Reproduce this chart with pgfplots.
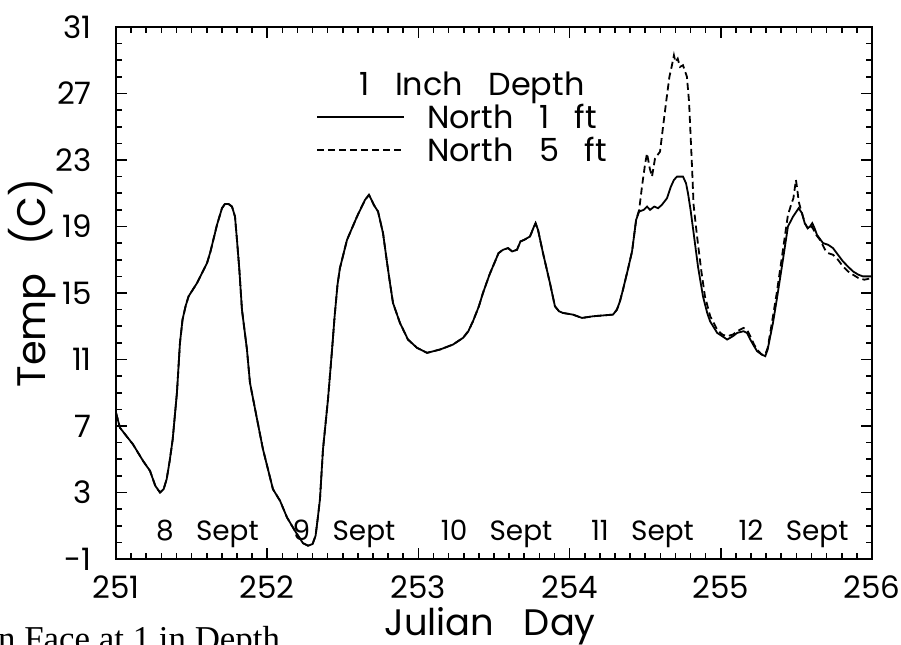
\documentclass[border=0pt]{standalone}
\usepackage{fontspec}
\setmainfont{Poppins}
\newfontfamily\capfont{Liberation Serif}
\usepackage{pgfplots}
\usepackage{pgfplotstable}
\pgfplotsset{compat=1.18}

\pgfplotstableread{
day temp
251.000 7.8
251.026 6.9
251.060 6.5
251.112 5.9
251.179 4.9
251.225 4.3
251.260 3.4
251.291 3.0
251.315 3.2
251.335 3.8
251.355 4.9
251.375 6.2
251.403 9.0
251.423 12.0
251.440 13.4
251.460 14.2
251.480 14.8
251.536 15.6
251.602 16.8
251.625 17.5
251.668 19.1
251.701 20.1
251.720 20.35
251.745 20.35
251.767 20.2
251.787 19.6
251.800 18.2
251.815 16.5
251.833 14.0
251.866 11.6
251.886 9.6
251.933 7.4
251.972 5.6
252.038 3.2
252.085 2.5
252.131 1.5
252.170 0.9
252.197 0.5
252.237 -0.05
252.270 -0.2
252.300 -0.1
252.320 0.4
252.335 1.5
252.349 2.6
252.369 5.6
252.402 8.6
252.429 11.6
252.445 13.5
252.465 15.5
252.481 16.5
252.528 18.2
252.594 19.6
252.647 20.6
252.673 20.9
252.690 20.6
252.705 20.3
252.733 19.9
252.766 18.6
252.790 17.0
252.812 15.6
252.832 14.4
252.878 13.2
252.931 12.2
252.991 11.7
253.057 11.4
253.143 11.6
253.229 11.9
253.295 12.3
253.330 12.7
253.361 13.3
253.400 14.2
253.427 15.0
253.470 16.1
253.507 16.9
253.530 17.4
253.560 17.6
253.593 17.7
253.620 17.5
253.652 17.6
253.675 18.1
253.700 18.2
253.738 18.4
253.760 18.9
253.775 19.2
253.791 18.8
253.824 17.4
253.870 15.6
253.903 14.2
253.930 13.9
253.956 13.8
254.022 13.7
254.082 13.5
254.155 13.6
254.220 13.65
254.287 13.7
254.313 14.0
254.333 14.5
254.353 15.2
254.385 16.4
254.413 17.5
254.440 19.4
254.460 19.9
254.490 20.0
254.512 20.2
254.532 20.0
254.560 20.2
254.585 20.1
254.610 20.3
254.644 20.7
254.670 21.4
254.690 21.8
254.710 22.0
254.750 22.0
254.770 21.6
254.783 21.0
254.800 20.0
254.816 18.9
254.849 16.6
254.882 14.8
254.910 13.8
254.929 13.3
254.976 12.6
255.010 12.4
255.042 12.2
255.080 12.4
255.108 12.6
255.150 12.7
255.173 12.6
255.195 12.2
255.220 11.8
255.240 11.5
255.270 11.3
255.294 11.2
255.310 11.6
255.325 12.3
255.345 13.2
255.370 14.6
255.411 17.0
255.444 19.0
255.478 19.6
255.500 19.9
255.515 20.1
255.537 19.8
255.555 19.2
255.575 18.9
255.590 19.0
255.605 19.2
255.620 18.9
255.636 18.5
255.676 18.0
255.710 17.9
255.742 17.7
255.775 17.3
255.808 16.9
255.840 16.6
255.874 16.3
255.910 16.1
255.940 16.0
256.000 16.0
}\northone

\pgfplotstableread{
day temp
251.000 7.8
251.026 6.9
251.060 6.5
251.112 5.9
251.179 4.9
251.225 4.3
251.260 3.4
251.291 3.0
251.315 3.2
251.335 3.8
251.355 4.9
251.375 6.2
251.403 9.0
251.423 12.0
251.440 13.4
251.460 14.2
251.480 14.8
251.536 15.6
251.602 16.8
251.625 17.5
251.668 19.1
251.701 20.1
251.720 20.35
251.745 20.35
251.767 20.2
251.787 19.6
251.800 18.2
251.815 16.5
251.833 14.0
251.866 11.6
251.886 9.6
251.933 7.4
251.972 5.6
252.038 3.2
252.085 2.5
252.131 1.5
252.170 0.9
252.197 0.5
252.237 -0.05
252.270 -0.2
252.300 -0.1
252.320 0.4
252.335 1.5
252.349 2.6
252.369 5.6
252.402 8.6
252.429 11.6
252.445 13.5
252.465 15.5
252.481 16.5
252.528 18.2
252.594 19.6
252.647 20.6
252.673 20.9
252.690 20.6
252.705 20.3
252.733 19.9
252.766 18.6
252.790 17.0
252.812 15.6
252.832 14.4
252.878 13.2
252.931 12.2
252.991 11.7
253.057 11.4
253.143 11.6
253.229 11.9
253.295 12.3
253.330 12.7
253.361 13.3
253.400 14.2
253.427 15.0
253.470 16.1
253.507 16.9
253.530 17.4
253.560 17.6
253.593 17.7
253.620 17.5
253.652 17.6
253.675 18.1
253.700 18.2
253.738 18.4
253.760 18.9
253.775 19.2
253.791 18.8
253.824 17.4
253.870 15.6
253.903 14.2
253.930 13.9
253.956 13.8
254.022 13.7
254.082 13.5
254.155 13.6
254.220 13.65
254.287 13.7
254.313 14.0
254.333 14.5
254.353 15.2
254.385 16.4
254.413 17.5
254.440 19.4
254.460 20.0
254.480 21.5
254.500 22.8
254.512 23.4
254.530 22.5
254.545 22.0
254.565 23.1
254.598 23.5
254.618 25.0
254.640 26.6
254.660 28.0
254.677 28.7
254.690 29.3
254.700 28.9
254.715 29.1
254.730 28.6
254.750 28.7
254.776 28.0
254.790 26.5
254.800 24.5
254.810 22.5
254.820 20.3
254.843 18.4
254.870 16.4
254.895 14.8
254.930 13.6
254.976 12.8
255.010 12.5
255.042 12.4
255.080 12.5
255.108 12.7
255.150 12.9
255.173 12.8
255.195 12.4
255.220 11.9
255.240 11.6
255.270 11.3
255.294 11.3
255.310 11.7
255.325 12.5
255.345 13.6
255.370 15.0
255.411 17.6
255.444 19.7
255.465 20.3
255.480 20.7
255.497 21.8
255.505 21.3
255.515 20.5
255.530 20.0
255.556 19.2
255.580 18.8
255.603 19.0
255.630 18.5
255.656 18.2
255.690 17.6
255.709 17.4
255.742 17.3
255.775 17.0
255.808 16.6
255.841 16.3
255.874 16.1
255.910 15.9
255.950 15.8
256.000 15.9
}\northfive

\begin{document}
\begin{tikzpicture}
\path[use as bounding box] (0bp,0bp) rectangle (901bp,645bp);
\begin{axis}[
  at={(116bp,86bp)}, anchor=south west,
  scale only axis, width=756bp, height=532bp,
  xmin=251, xmax=256, ymin=-1, ymax=31,
  xtick={251,252,...,256}, ytick={-1,3,...,31},
  minor x tick num=9, minor y tick num=3,
  tick align=inside,
  major tick length=11bp, minor tick length=6bp,
  every tick/.style={line width=1.6bp, black},
  axis line style={line width=2.4bp},
  /pgf/number format/assume math mode=true,
  /pgf/number format/1000 sep={},
  ticklabel style={font=\fontsize{31}{31}\selectfont, inner sep=0pt},
  yticklabel style={xshift=-24bp},
  xticklabel style={yshift=-17bp},
  xlabel={Julian\hspace{0.8em}Day},
  ylabel={Temp\hspace{0.7em}(C)},
  every axis x label/.style={at={(axis description cs:0.495,-0.1445)}, anchor=base, inner sep=0pt, font=\fontsize{37}{37}\selectfont},
  every axis y label/.style={at={(axis description cs:-0.111,0.519)}, rotate=90, anchor=center, font=\fontsize{40}{40}\selectfont},
  legend style={draw=none, fill=none, anchor=north west,
    at={(axis cs:252.323,26.3)}, inner xsep=0pt, inner ysep=0pt,
    nodes={inner sep=0pt, text height=23bp, text depth=0bp},
    row sep=10bp, column sep=22bp,
    font=\fontsize{32}{32}\selectfont},
  legend cell align=left,
  legend image code/.code={\draw[#1] (0bp,0bp) -- (87bp,0bp);},
]
\addplot[black, line width=1.8bp] table[x=day, y=temp] {\northone};
\addlegendentry{North\hspace{0.8em}1\hspace{0.8em}ft}
\addplot[black, line width=1.8bp, dash pattern=on 7bp off 4bp] table[x=day, y=temp] {\northfive};
\addlegendentry{North\hspace{0.8em}5\hspace{0.8em}ft}

\node[anchor=base, font=\fontsize{32}{32}\selectfont] at (axis cs:253.354,26.85) {1\hspace{0.8em}Inch\hspace{0.8em}Depth};
\begin{scope}[every node/.style={anchor=base, font=\fontsize{28}{28}\selectfont}]
\node at (axis cs:251.605,0.14) {8\hspace{0.8em}Sept};
\node at (axis cs:252.508,0.14) {9\hspace{0.8em}Sept};
\node at (axis cs:253.517,0.14) {10\hspace{0.8em}Sept};
\node at (axis cs:254.482,0.14) {11\hspace{0.8em}Sept};
\node at (axis cs:255.481,0.14) {12\hspace{0.8em}Sept};
\end{scope}
\end{axis}
\node[anchor=base west, inner sep=0pt, font=\capfont\fontsize{35}{35}\selectfont] at (-2bp,-5bp) {n Face at 1 in Depth};
\end{tikzpicture}
\end{document}
